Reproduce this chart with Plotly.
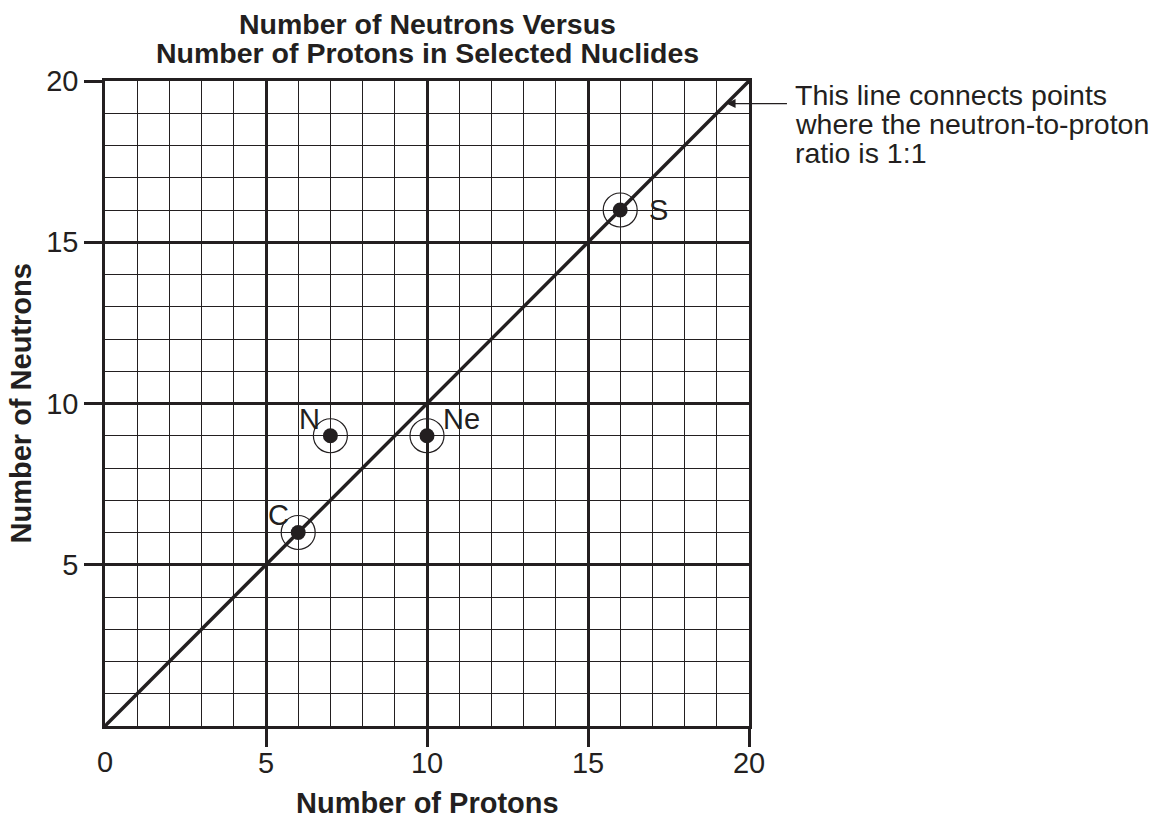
import plotly.graph_objects as go

# ---- data ----
nuclide_labels = ["C", "N", "Ne", "S"]
protons = [6, 7, 10, 16]
neutrons = [6, 9, 9, 16]
ratio_line_x = [0, 20]
ratio_line_y = [0, 20]
major_ticks = [5, 10, 15, 20]
x_tick_labels = ["5", "10", "15", "20"]
y_tick_labels = ["5", "10", "15", "20"]
title_lines = ["Number of Neutrons Versus", "Number of Protons in Selected Nuclides"]
note_lines = ["This line connects points", "where the neutron-to-proton", "ratio is 1:1"]

# ---- styling / positions ----
INK = "#231f20"
FONT = "Liberation Sans, Arial, Helvetica, sans-serif"
label_offsets = [(-20, 18), (-21, 17), (34, 17), (38, 0)]

fig = go.Figure()

fig.add_trace(go.Scatter(
    x=ratio_line_x, y=ratio_line_y, mode="lines",
    line=dict(color=INK, width=3.5), hoverinfo="skip", showlegend=False,
))
fig.add_trace(go.Scatter(
    x=protons, y=neutrons, mode="markers",
    marker=dict(symbol="circle-open", size=34, color=INK, line=dict(width=1.2, color=INK)),
    showlegend=False, hoverinfo="skip",
))
fig.add_trace(go.Scatter(
    x=protons, y=neutrons, mode="markers",
    marker=dict(symbol="circle", size=15, color=INK),
    showlegend=False, hoverinfo="skip",
))

annotations = []
for lab, px, ny, (dx, dy) in zip(nuclide_labels, protons, neutrons, label_offsets):
    annotations.append(dict(x=px, y=ny, xref="x", yref="y", text=lab, showarrow=False,
                            xshift=dx, yshift=dy, font=dict(size=29, color=INK, family=FONT)))

# title lines
for i, line in enumerate(title_lines):
    annotations.append(dict(x=0.5, y=1, xref="paper", yref="paper", text="<b>" + line + "</b>",
                            showarrow=False, xanchor="center", yanchor="middle",
                            yshift=57 - 29 * i, font=dict(size=28.5, color=INK, family=FONT)))

# arrow pointing to the 1:1 line
annotations.append(dict(x=19.3, y=19.3, xref="x", yref="y", text="", showarrow=True,
                        ax=62, ay=0, arrowhead=2, arrowsize=1.4, arrowwidth=1.3,
                        arrowcolor=INK))
for i, line in enumerate(note_lines):
    annotations.append(dict(x=1, y=1, xref="paper", yref="paper", text=line, showarrow=False,
                            xanchor="left", yanchor="middle", xshift=44, yshift=-14 - 29 * i,
                            font=dict(size=28.5, color=INK, family=FONT)))

# axis titles
annotations.append(dict(x=0.5, y=0, xref="paper", yref="paper", text="<b>Number of Protons</b>",
                        showarrow=False, xanchor="center", yanchor="middle", yshift=-77,
                        font=dict(size=29, color=INK, family=FONT)))
annotations.append(dict(x=0, y=0.5, xref="paper", yref="paper", text="<b>Number of Neutrons</b>",
                        showarrow=False, xanchor="center", yanchor="middle", xshift=-85,
                        textangle=-90, font=dict(size=29, color=INK, family=FONT)))
# zero label on x axis
annotations.append(dict(x=0, y=0, xref="x", yref="paper", text="0", showarrow=False,
                        xanchor="center", yanchor="middle", yshift=-36,
                        font=dict(size=29, color=INK, family=FONT)))

axis_common = dict(
    range=[0, 20], showline=True, mirror=True, linecolor=INK, linewidth=2.5,
    showgrid=True, gridcolor=INK, gridwidth=2.5, zeroline=False,
    tickmode="array", tickvals=major_ticks, ticks="outside", ticklen=18, tickwidth=2.5,
    tickcolor=INK, tickfont=dict(size=29, color=INK, family=FONT),
    minor=dict(tickmode="linear", tick0=0, dtick=1, showgrid=True, gridcolor=INK,
               gridwidth=1, ticks=""),
    fixedrange=True,
)

fig.update_layout(
    width=1167, height=819,
    margin=dict(l=105, r=418, t=81, b=93, autoexpand=False),
    paper_bgcolor="white", plot_bgcolor="white",
    font=dict(family=FONT, color=INK),
    xaxis=dict(axis_common, ticktext=x_tick_labels, ticklabelstandoff=-9),
    yaxis=dict(axis_common, ticktext=y_tick_labels),
    annotations=annotations,
    showlegend=False,
)

fig.write_html("out.html", config={"displayModeBar": False},
               post_script="document.body.style.margin='0px';document.body.style.overflow='hidden';")
